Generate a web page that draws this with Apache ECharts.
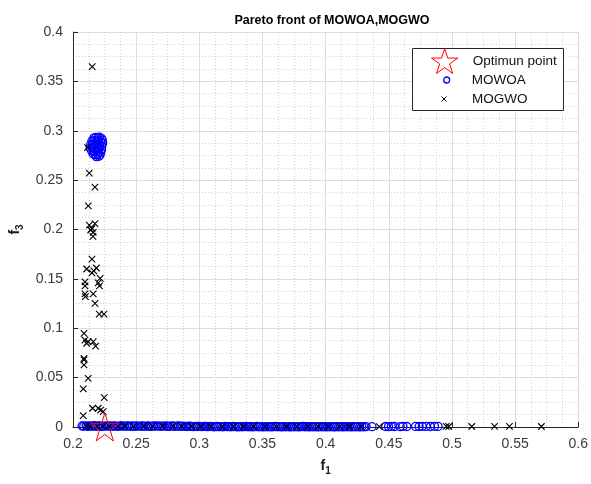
<!DOCTYPE html>
<html>
<head>
<meta charset="utf-8">
<script src="https://cdn.jsdelivr.net/npm/echarts@6/dist/echarts.min.js"></script>
<style>html,body{margin:0;padding:0;background:#fff;}#c{width:591px;height:484px;}</style>
</head>
<body>
<div id="c"></div>
<script>
// ---- data ----
var optimumF1 = [0.2252];
var optimumF3 = [0.0];

// MOWOA: upper cluster
var mowoaClusterF1 = [
  0.2165,0.2180,0.2195,0.2210,0.2225,0.2232,
  0.2150,0.2170,0.2188,0.2203,0.2220,0.2235,
  0.2140,0.2158,0.2176,0.2194,0.2212,0.2228,
  0.2135,0.2152,0.2170,0.2190,0.2208,0.2226,
  0.2148,0.2166,0.2184,0.2202,0.2220,
  0.2160,0.2178,0.2196,0.2214,
  0.2185,0.2205
];
var mowoaClusterF3 = [
  0.2925,0.2932,0.2928,0.2935,0.2920,0.2905,
  0.2895,0.2900,0.2890,0.2898,0.2885,0.2875,
  0.2860,0.2865,0.2858,0.2862,0.2850,0.2845,
  0.2825,0.2830,0.2822,0.2828,0.2818,0.2810,
  0.2795,0.2790,0.2798,0.2785,0.2780,
  0.2765,0.2758,0.2762,0.2755,
  0.2738,0.2742
];
// MOWOA: points lying on f3 ~ 0
var mowoaBottomF1 = [
  0.2072,0.2085,0.2104,0.2118,0.2131,0.2152,0.2166,0.2180,0.2197,0.2214,
  0.2229,0.2243,0.2262,0.2278,0.2291,0.2310,0.2326,0.2339,0.2357,0.2375,
  0.2388,0.2405,0.2424,0.2437,0.2456,0.2471,0.2489,0.2503,0.2522,0.2540,
  0.2553,0.2571,0.2590,0.2604,0.2619,0.2638,0.2652,0.2671,0.2689,0.2702,
  0.2720,0.2739,0.2753,0.2770,0.2788,0.2801,0.2820,0.2837,0.2853,0.2869,
  0.2888,0.2902,0.2921,0.2935,0.2954,0.2970,0.2986,0.3003,0.3020,0.3036,
  0.3054,0.3069,0.3087,0.3103,0.3119,0.3138,0.3152,0.3170,0.3187,0.3202,
  0.3221,0.3236,0.3253,0.3270,0.3286,0.3304,0.3319,0.3337,0.3352,0.3370,
  0.3386,0.3403,0.3420,0.3436,0.3453,0.3469,0.3487,0.3503,0.3519,0.3537,
  0.3552,0.3570,0.3586,0.3603,0.3619,0.3636,0.3653,0.3669,0.3686,0.3703,
  0.3719,0.3736,0.3752,0.3770,0.3786,0.3802,0.3820,0.3836,0.3853,0.3869,
  0.3886,0.3903,0.3919,0.3936,0.3952,0.3970,0.3986,0.4003,0.4019,0.4036,
  0.4053,0.4070,0.4086,0.4103,0.4119,0.4136,0.4153,0.4170,0.4186,0.4203,
  0.4219,0.4236,0.4252,0.4270,0.4286,0.4303,0.4320,
  0.4367,0.4475,0.4498,0.4520,0.4545,0.4590,0.4612,0.4643,0.4712,0.4740,0.4765,0.4795,0.4830,0.4862,0.4890
];
var mowoaBottomF3 = [
  0.0010,0.0008,0.0012,0.0006,0.0010,0.0009,0.0013,0.0007,0.0010,0.0011,
  0.0006,0.0009,0.0012,0.0008,0.0010,0.0007,0.0011,0.0009,0.0006,0.0012,
  0.0010,0.0008,0.0009,0.0011,0.0007,0.0010,0.0006,0.0012,0.0009,0.0008,
  0.0010,0.0007,0.0011,0.0009,0.0006,0.0010,0.0008,0.0012,0.0007,0.0009,
  0.0008,0.0010,0.0006,0.0009,0.0011,0.0007,0.0008,0.0010,0.0006,0.0009,
  0.0007,0.0005,0.0008,0.0006,0.0004,0.0007,0.0005,0.0006,0.0004,0.0007,
  0.0005,0.0003,0.0006,0.0004,0.0002,0.0005,0.0003,0.0004,0.0002,0.0005,
  0.0003,0.0004,0.0002,0.0005,0.0003,0.0001,0.0004,0.0002,0.0003,0.0005,
  0.0002,0.0004,0.0001,0.0003,0.0005,0.0002,0.0004,0.0001,0.0003,0.0002,
  0.0004,0.0001,0.0003,0.0005,0.0002,0.0004,0.0001,0.0003,0.0002,0.0004,
  0.0001,0.0003,0.0002,0.0004,0.0001,0.0003,0.0005,0.0002,0.0004,0.0001,
  0.0003,0.0002,0.0004,0.0001,0.0003,0.0002,0.0004,0.0001,0.0003,0.0002,
  0.0004,0.0001,0.0003,0.0002,0.0004,0.0001,0.0003,0.0002,0.0004,0.0001,
  0.0003,0.0002,0.0004,0.0001,0.0003,0.0002,0.0004,
  0.0003,0.0005,0.0004,0.0006,0.0005,0.0004,0.0006,0.0005,0.0006,0.0005,0.0007,0.0006,0.0005,0.0007,0.0006
];

var mogwoF1 = [
  0.2152,0.2115,0.2129,0.2174,0.2121,0.2129,0.2174,0.2150,0.2160,0.2158,0.2140,0.2150,0.2108,0.2150,0.2185,0.2165,0.2095,0.2095,0.2200,0.2215,0.2210,0.2095,0.2098,0.2160,0.2174,0.2208,0.2245,0.2087,0.2095,0.2120,0.2160,0.2179,0.2108,0.2087,0.2087,0.2087,0.2120,0.2081,0.2247,0.2155,0.2200,0.2218,0.2239,0.2081,
  0.2105,0.2135,0.2190,0.2235,0.2290,0.2355,0.2410,0.2480,0.2560,0.2630,0.2710,0.2790,0.2860,0.2940,0.3010,0.3090,0.3180,0.3270,0.3350,0.3430,0.3520,0.3610,0.3690,0.3770,0.3860,0.3940,0.4020,0.4110,0.4190,0.4280,0.4425,0.4955,0.4975,0.5157,0.5337,0.5455,0.5708
];
var mogwoF3 = [
  0.3649,0.2830,0.2570,0.2430,0.2240,0.2045,0.2060,0.2010,0.1970,0.1930,0.1995,0.1700,0.1600,0.1560,0.1610,0.1580,0.1470,0.1430,0.1460,0.1506,0.1428,0.1347,0.1320,0.1347,0.1253,0.1144,0.1144,0.0949,0.0880,0.0864,0.0864,0.0820,0.0848,0.0696,0.0680,0.0628,0.0493,0.0385,0.0297,0.0190,0.0190,0.0172,0.0155,0.0115,
  0.0008,0.0006,0.0009,0.0007,0.0008,0.0006,0.0009,0.0007,0.0008,0.0006,0.0007,0.0008,0.0006,0.0007,0.0005,0.0006,0.0004,0.0005,0.0004,0.0005,0.0003,0.0004,0.0005,0.0003,0.0004,0.0005,0.0003,0.0004,0.0005,0.0003,0.0004,0.0006,0.0005,0.0005,0.0006,0.0006,0.0005
];

var xTicks = {min: 0.2, max: 0.6, interval: 0.05};
var yTicks = {min: 0, max: 0.4, interval: 0.05};

function zip(a, b) { return a.map(function (v, i) { return [v, b[i]]; }); }

var STAR = 'path://M0,-10L2.245,-3.09L9.511,-3.09L3.633,1.18L5.878,8.09L0,3.82L-5.878,8.09L-3.633,1.18L-9.511,-3.09L-2.245,-3.09Z';
var CROSS = 'path://M0,0L10,10M0,10L10,0';
var FONT = 'Liberation Sans, Arial, Helvetica, sans-serif';
var AX = '#262626';

var chart = echarts.init(document.getElementById('c'), null, {renderer: 'canvas'});

function axisCommon() {
  return {
    type: 'value',
    axisLine: {show: true, onZero: false, lineStyle: {color: AX, width: 1}},
    axisTick: {show: true, inside: true, length: 5, lineStyle: {color: AX}},
    axisLabel: {color: '#3a3a3a', fontSize: 14, fontFamily: FONT},
    splitLine: {show: true, lineStyle: {color: '#dcdcdc', width: 1}},
    minorTick: {show: false, splitNumber: 4},
    minorSplitLine: {show: true, lineStyle: {color: '#d2d2d2', width: 1, type: [1, 2]}}
  };
}
var nameRich = {
  f: {fontSize: 14, fontWeight: 'bold', color: '#1a1a1a', fontFamily: FONT},
  s: {fontSize: 10, fontWeight: 'bold', color: '#1a1a1a', fontFamily: FONT, padding: [9, 0, 0, 0]}
};

var xAxis = axisCommon();
xAxis.min = xTicks.min; xAxis.max = xTicks.max; xAxis.interval = xTicks.interval;
xAxis.axisLabel.margin = 10;
xAxis.name = '{f|f}{s|1}';
xAxis.nameLocation = 'middle';
xAxis.nameGap = 30;
xAxis.nameTextStyle = {rich: nameRich};

var yAxis = axisCommon();
yAxis.min = yTicks.min; yAxis.max = yTicks.max; yAxis.interval = yTicks.interval;
yAxis.axisLabel.margin = 10;
yAxis.name = '{f|f}{s|3}';
yAxis.nameLocation = 'middle';
yAxis.nameGap = 46;
yAxis.nameTextStyle = {rich: nameRich};

var legendText = {fontSize: 13.5, color: '#111', fontFamily: FONT};

chart.setOption({
  backgroundColor: '#fff',
  animation: false,
  title: {
    text: 'Pareto front of MOWOA,MOGWO',
    left: 327, top: 9, textAlign: 'center',
    textStyle: {fontSize: 12.5, fontWeight: 'bold', color: '#000', fontFamily: FONT}
  },
  grid: {left: 73, top: 32, width: 507, height: 395, containLabel: false},
  xAxis: xAxis,
  yAxis: yAxis,
  graphic: [{
    type: 'rect', z: 3,
    shape: {x: 412.5, y: 48.5, width: 151, height: 62},
    style: {fill: '#fff', stroke: AX, lineWidth: 1}
  }],
  legend: [
    {left: 431, top: 48, padding: 0, itemWidth: 46, itemHeight: 25, z: 5, textStyle: legendText,
     data: [{name: 'Optimun point', icon: STAR, itemStyle: {color: 'transparent', borderColor: '#ff0000', borderWidth: 1}}]},
    {left: 443, top: 73, padding: 0, itemWidth: 40, itemHeight: 6, z: 5, textStyle: legendText,
     data: [{name: 'MOWOA', icon: 'circle', itemStyle: {color: 'transparent', borderColor: '#0000ff', borderWidth: 1.3}}]},
    {left: 441, top: 92, padding: 0, itemWidth: 46, itemHeight: 5, z: 5, textStyle: legendText,
     data: [{name: 'MOGWO', icon: CROSS, itemStyle: {color: 'transparent', borderColor: '#000', borderWidth: 1}}]}
  ],
  series: [
    {
      name: 'MOWOA', type: 'scatter', clip: false, z: 2,
      symbol: 'circle', symbolSize: 8,
      itemStyle: {color: 'transparent', borderColor: '#0000ff', borderWidth: 1.3, opacity: 1},
      data: zip(mowoaClusterF1, mowoaClusterF3).concat(zip(mowoaBottomF1, mowoaBottomF3))
    },
    {
      name: 'MOGWO', type: 'scatter', clip: false, z: 3,
      symbol: CROSS, symbolSize: 6.5,
      itemStyle: {color: 'transparent', borderColor: '#000', borderWidth: 1.1, opacity: 1},
      data: zip(mogwoF1, mogwoF3)
    },
    {
      name: 'Optimun point', type: 'scatter', clip: false, z: 4,
      symbol: STAR, symbolSize: 28,
      itemStyle: {color: 'transparent', borderColor: '#ff0000', borderWidth: 1, opacity: 1},
      data: zip(optimumF1, optimumF3)
    }
  ]
});
</script>
</body>
</html>
